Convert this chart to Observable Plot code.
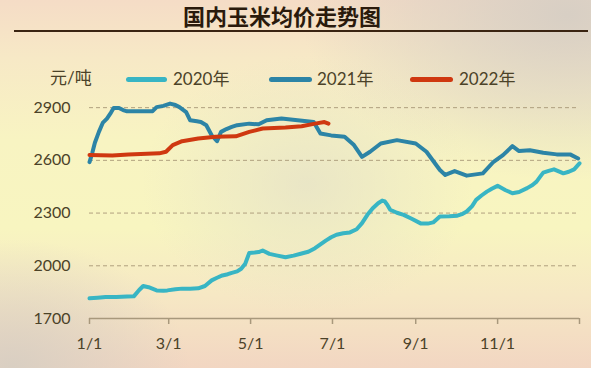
<!DOCTYPE html>
<html>
<head>
<meta charset="utf-8">
<script src="https://cdn.jsdelivr.net/npm/d3@7"></script>
<script src="https://cdn.jsdelivr.net/npm/@observablehq/plot@0.6"></script>
<style>
  html, body { margin: 0; padding: 0; }
  #wrap {
    position: relative; width: 591px; height: 368px; overflow: hidden;
    background:
      radial-gradient(ellipse 45% 45% at 96% 4%, rgba(214,206,196,0.95), rgba(214,206,196,0) 100%),
      radial-gradient(ellipse 30% 35% at 2% 100%, rgba(214,206,194,0.9), rgba(214,206,194,0) 100%),
      radial-gradient(ellipse 28% 35% at 52% 50%, rgba(228,224,200,0.7), rgba(228,224,200,0) 100%),
      linear-gradient(180deg, #f5dcc6 0%, #f7e9c6 16%, #f8f4c2 38%, #f8f5c0 62%, #f6e8c4 80%, #f2d6c2 100%);
    font-family: Lato, "Noto Sans CJK SC", sans-serif;
    color: #4b4228;
  }
  #title {
    position: absolute; left: 183px; top: 3px; font: bold 22px/25px "Noto Sans CJK SC", sans-serif;
    color: #2a1a0c; white-space: nowrap;
  }
  #rule { position: absolute; left: 14px; top: 30px; width: 574px; height: 2px; background: #3a2412; }
  #chart { position: absolute; left: 0; top: 36px; }
  .lg { position: absolute; font-size: 17px; line-height: 20px; white-space: nowrap; }
  .sw { position: absolute; height: 5px; border-radius: 3px; }
</style>
</head>
<body>
<div id="wrap">
  <div id="title">国内玉米均价走势图</div>
  <div id="rule"></div>
  <div id="chart"></div>
  <div id="legend"></div>
</div>
<script>
// ---- data ----
const seriesNames = ["2020年", "2021年", "2022年"];
const seriesColors = ["#38b5c4", "#2c84a6", "#cf3810"];
const unitLabel = "元/吨";

// [day of year, price]
const prices2020 = [[0,1815],[6,1818],[12,1822],[20,1822],[28,1825],[33,1826],[37,1862],[40,1885],[44,1878],[50,1860],[55,1858],[58,1860],[64,1866],[69,1870],[75,1870],[81,1872],[86,1885],[91,1917],[95,1932],[99,1945],[103,1952],[106,1960],[110,1968],[113,1983],[116,2012],[119,2073],[123,2075],[126,2078],[129,2087],[134,2068],[140,2058],[146,2049],[152,2058],[158,2070],[163,2080],[168,2100],[172,2122],[176,2143],[180,2162],[184,2177],[189,2185],[194,2190],[199,2208],[203,2243],[207,2290],[211,2328],[215,2356],[218,2371],[220,2366],[222,2345],[224,2319],[229,2302],[234,2290],[240,2268],[247,2240],[252,2240],[256,2247],[261,2281],[268,2282],[274,2285],[278,2296],[281,2309],[285,2340],[288,2375],[292,2400],[296,2422],[300,2440],[304,2455],[310,2430],[315,2413],[320,2420],[326,2442],[330,2460],[333,2479],[336,2510],[338,2530],[342,2540],[346,2549],[350,2536],[353,2526],[357,2535],[361,2549],[365,2583]];

const prices2021 = [[0,2590],[2,2640],[4,2700],[7,2762],[10,2815],[13,2838],[16,2872],[18,2898],[22,2898],[25,2886],[28,2879],[35,2879],[42,2879],[47,2880],[50,2903],[55,2910],[60,2923],[64,2915],[67,2903],[72,2875],[75,2828],[80,2822],[83,2818],[87,2800],[91,2743],[95,2709],[98,2762],[102,2778],[106,2790],[110,2800],[119,2809],[126,2805],[132,2828],[143,2838],[155,2828],[167,2818],[172,2753],[180,2742],[190,2734],[197,2687],[203,2620],[209,2649],[217,2696],[229,2715],[243,2696],[251,2649],[261,2545],[265,2517],[272,2539],[281,2513],[293,2526],[301,2592],[308,2630],[315,2681],[320,2653],[328,2658],[338,2643],[348,2634],[358,2634],[364,2611]];

const prices2022 = [[0,2630],[17,2628],[29,2634],[52,2640],[57,2649],[62,2687],[69,2709],[81,2724],[94,2734],[109,2737],[119,2762],[129,2781],[146,2787],[158,2794],[168,2809],[175,2818],[178,2809]];

const xTickDays = [0, 59, 120, 181, 243, 304, 365];
const xTickLabels = ["1/1", "3/1", "5/1", "7/1", "9/1", "11/1", ""];
const yTicks = [1700, 2000, 2300, 2600, 2900];
const yGrid = [2000, 2300, 2600, 2900];

// ---- chart ----
const labelOf = new Map(xTickDays.map((d, i) => [d, xTickLabels[i]]));
const allSeries = [prices2020, prices2021, prices2022];

const chart = Plot.plot({
  width: 591, height: 332,
  marginLeft: 89, marginRight: 12, marginTop: 36, marginBottom: 50,
  style: { background: "transparent", fontFamily: "Lato, sans-serif", fontSize: "16px", color: "#4b4228", overflow: "visible" },
  x: { domain: [0, 365] },
  y: { domain: [1700, 3100] },
  marks: [
    Plot.ruleY(yGrid, { stroke: "#a89878", strokeWidth: 1, strokeDasharray: "4,3", strokeOpacity: 0.9 }),
    Plot.ruleY([1700], { stroke: "#a8987c", strokeWidth: 1.5 }),
    Plot.axisY(yTicks, { tickSize: 0, tickPadding: 19, tickFormat: d => String(d), fill: "#4b4228", fontSize: 16, label: null }),
    Plot.axisX(xTickDays, { tickSize: 6, tickPadding: 13, tickFormat: d => labelOf.get(d), stroke: "#a8987c", strokeWidth: 1.5, fill: "#4b4228", fontSize: 16, label: null }),
    ...allSeries.map((s, i) => Plot.line(s, { x: d => d[0], y: d => d[1], stroke: seriesColors[i], strokeWidth: 4, strokeLinejoin: "round", strokeLinecap: "round" }))
  ]
});
document.getElementById("chart").appendChild(chart);

// ---- legend (HTML) ----
const legend = document.getElementById("legend");
const unit = document.createElement("div");
unit.className = "lg"; unit.textContent = unitLabel;
unit.style.left = "50px"; unit.style.top = "68px";
legend.appendChild(unit);
const swX = [126, 269, 410];
const swW = [41, 43, 43];
const txX = [173, 317, 459];
seriesNames.forEach((name, i) => {
  const sw = document.createElement("div");
  sw.className = "sw"; sw.style.left = swX[i] + "px"; sw.style.top = "77px";
  sw.style.width = swW[i] + "px"; sw.style.background = seriesColors[i];
  legend.appendChild(sw);
  const t = document.createElement("div");
  t.className = "lg"; t.textContent = name; t.style.left = txX[i] + "px"; t.style.top = "69px";
  legend.appendChild(t);
});
</script>
</body>
</html>
